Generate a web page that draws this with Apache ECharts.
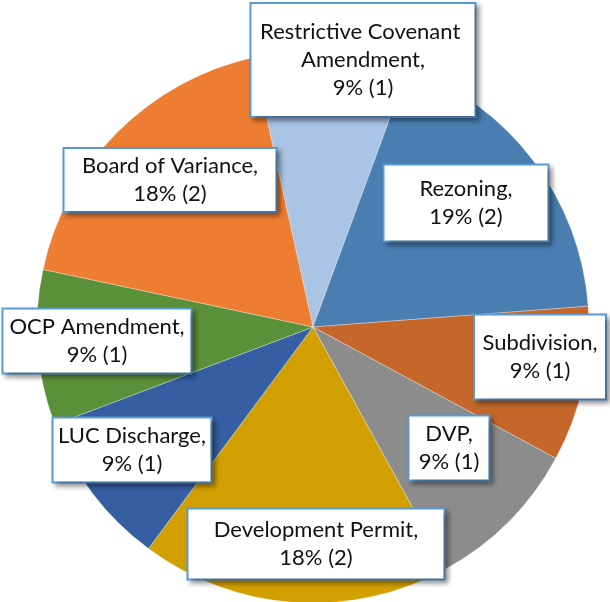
<!DOCTYPE html>
<html>
<head>
<meta charset="utf-8">
<script src="https://cdn.jsdelivr.net/npm/echarts@6/dist/echarts.min.js"></script>
<style>
html, body { margin: 0; padding: 0; background: #fff; }
#chart { width: 610px; height: 602px; }
</style>
</head>
<body>
<div id="chart"></div>
<script>
// ============================= 数据 =============================
const categories = ['Restrictive Covenant Amendment', 'Rezoning', 'Subdivision', 'DVP',
    'Development Permit', 'LUC Discharge', 'OCP Amendment', 'Board of Variance'];
const counts = [1, 2, 1, 1, 2, 1, 1, 2];
const percentLabels = [9, 19, 9, 9, 18, 9, 9, 18];

// ============================= 样式 / 位置 =============================
const colors = ['#A9C4E5', '#4A7EB1', '#C5672A', '#8C8C8C', '#D29F00', '#365FA3', '#5B903A', '#ED7D31'];
// label box centres and outer sizes (Excel labels were placed by hand)
const labelCenters = [[363, 60], [466, 203], [540, 357], [449, 448], [316, 544], [132, 450], [97, 341], [170, 180]];
const labelBoxes = [[227, 116], [167, 79], [134, 87], [83, 67], [259, 73], [161, 67], [191, 67], [215, 66]];

const seriesData = categories.map(function (name, i) {
    return {
        name: name,
        value: counts[i],
        pct: percentLabels[i],
        itemStyle: { color: colors[i] },
        label: { width: labelBoxes[i][0] - 4, height: labelBoxes[i][1] - 4 }
    };
});

let option = {
    animation: false,
    backgroundColor: '#fff',
    series: [{
        type: 'pie',
        center: [313, 327],
        radius: 276,
        startAngle: 102.5,
        clockwise: true,
        data: seriesData,
        itemStyle: { borderColor: 'rgba(255,255,255,0.6)', borderWidth: 0.5 },
        emphasis: { disabled: true },
        labelLine: { show: false },
        label: {
            show: true,
            position: 'outside',
            formatter: function (p) {
                return p.name + ',\n' + percentLabels[p.dataIndex] + '% (' + p.value + ')';
            },
            overflow: 'break',
            fontFamily: 'Lato',
            fontSize: 22,
            lineHeight: 28,
            color: '#111',
            align: 'center',
            verticalAlign: 'middle',
            backgroundColor: '#fff',
            borderColor: '#5B9BD5',
            borderWidth: 2,
            padding: 0,
            shadowColor: 'rgba(0,0,0,0.35)',
            shadowBlur: 5,
            shadowOffsetX: 3,
            shadowOffsetY: 3
        },
        labelLayout: function (params) {
            const c = labelCenters[params.dataIndex];
            return { x: c[0], y: c[1], align: 'center', verticalAlign: 'middle' };
        }
    }]
};

echarts.init(document.getElementById('chart')).setOption(option);
</script>
</body>
</html>
